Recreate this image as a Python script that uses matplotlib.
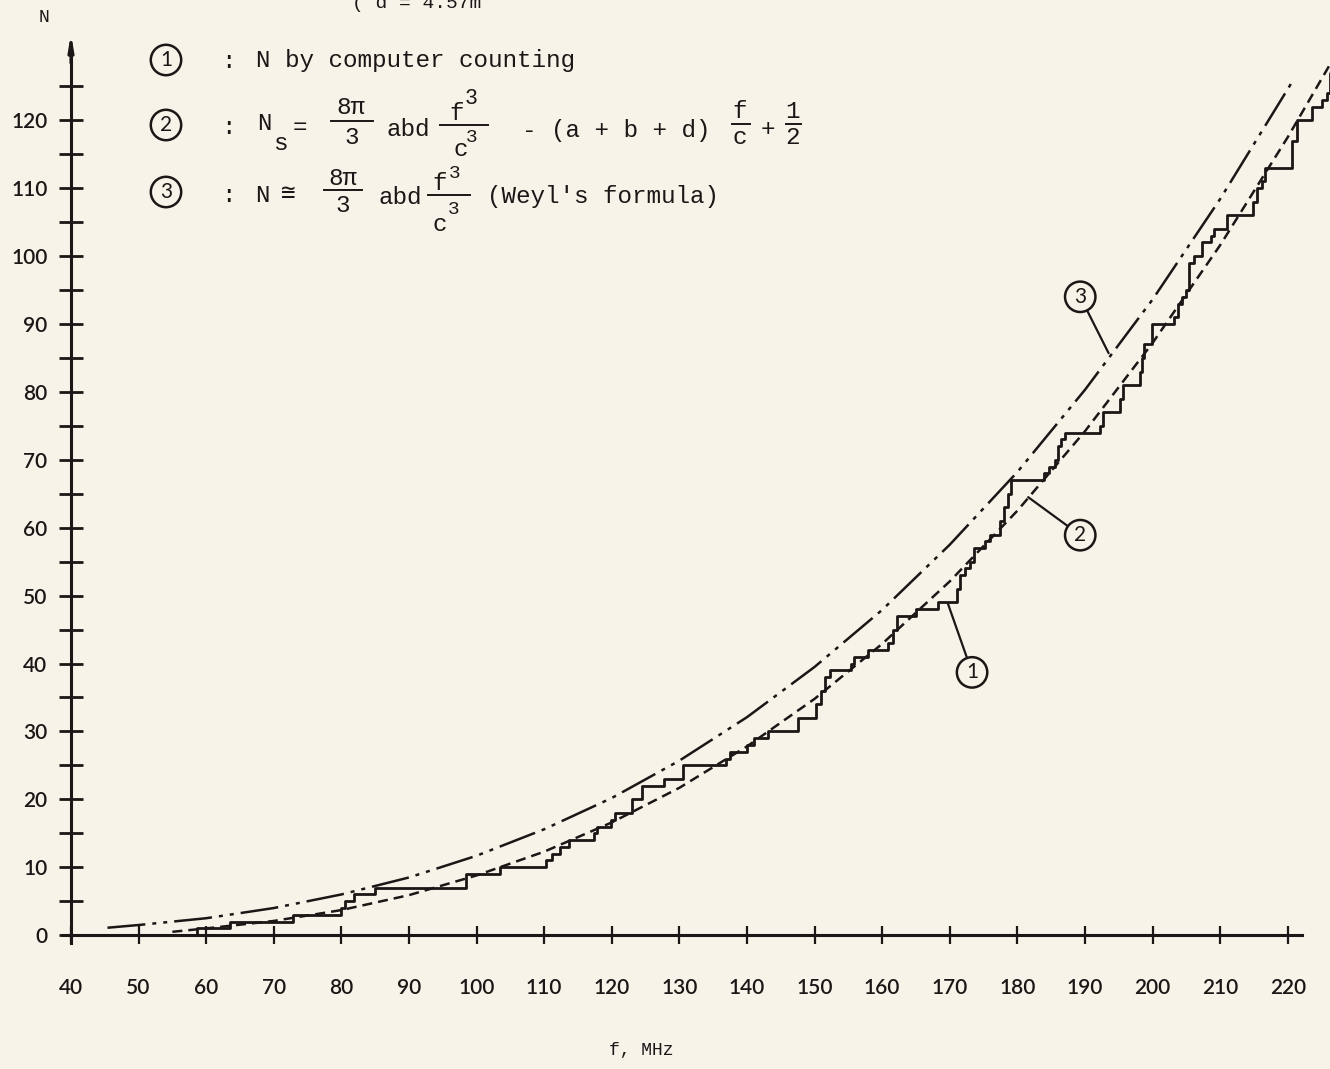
import numpy as np
import matplotlib.pyplot as plt

# values (f in MHz, N = number of modes)
x_ticks = [40, 50, 60, 70, 80, 90, 100, 110, 120, 130, 140, 150, 160, 170, 180, 190, 200, 210, 220]
y_ticks = [0, 10, 20, 30, 40, 50, 60, 70, 80, 90, 100, 110, 120]
y_minor = [5, 15, 25, 35, 45, 55, 65, 75, 85, 95, 105, 115, 125]

# (3) Weyl's formula
weyl_f = [45.4, 50, 60, 70, 80, 90, 100, 110, 120, 130, 140, 150, 160, 170, 180, 190, 200, 210, 220.5]
weyl_n = [1.1, 1.5, 2.5, 4.0, 6.0, 8.5, 11.7, 15.6, 20.2, 25.7, 32.1, 39.5, 47.9, 57.5, 68.2, 80.3, 93.6, 108.4, 125.4]

# (2) smoothed count Ns
ns_f = [55, 60, 70, 80, 90, 100, 110, 120, 130, 140, 150, 160, 170, 180, 190, 200, 210, 220, 227]
ns_n = [0.5, 1.0, 2.1, 3.7, 5.9, 8.8, 12.3, 16.6, 21.7, 27.8, 34.8, 42.9, 52.1, 62.5, 74.2, 87.2, 101.6, 117.5, 129.5]

# (1) computer counting: frequency of each jump and count after it
step_f = [55.0, 58.6, 63.5, 72.9, 80.0, 80.5, 81.8, 85.0, 98.4, 103.4, 110.2, 111.2, 112.4, 113.6,
          117.4, 117.8, 119.9, 120.5, 123.0, 124.5, 127.7, 130.5, 136.9, 137.5, 140.0, 141.0,
          143.1, 147.5, 150.2, 150.9, 151.5, 152.3, 155.4, 155.9, 157.9, 160.8, 161.6, 162.2,
          165.0, 168.2, 171.0, 171.5, 172.2, 173.0, 173.6, 175.2, 175.9, 177.4, 178.0, 178.6,
          179.1, 184.0, 184.7, 185.5, 186.0, 186.5, 187.0, 192.2, 192.6, 195.2, 195.6, 198.1,
          198.4, 198.8, 199.9, 203.1, 203.7, 204.3, 205.0, 205.4, 206.1, 207.3, 208.7, 209.1,
          211.0, 214.9, 215.4, 216.2, 216.6, 220.6, 221.3, 223.6, 225.0, 225.8, 226.3]
step_n = [0, 1, 2, 3, 4, 5, 6, 7, 9, 10, 11, 12, 13, 14,
          15, 16, 17, 18, 20, 22, 23, 25, 26, 27, 28, 29,
          30, 32, 34, 36, 38, 39, 40, 41, 42, 43, 45, 47,
          48, 49, 51, 53, 54, 55, 57, 58, 59, 61, 63, 65,
          67, 68, 69, 70, 72, 73, 74, 75, 77, 79, 81, 83,
          85, 87, 90, 91, 93, 94, 95, 99, 100, 102, 103, 104,
          106, 108, 110, 111, 113, 117, 120, 122, 123, 124, 127]

W, H = 1330, 1069
bg = '#F8F3E9'
ink = '#1C1716'
mono = ['Liberation Mono', 'DejaVu Sans Mono', 'DejaVu Sans']

fig = plt.figure(figsize=(13.3, 10.69), dpi=100)
fig.patch.set_facecolor(bg)
ax = fig.add_axes([0, 0, 1, 1])
ax.set_facecolor(bg)
ax.set_xlim(29.5, 226.25)
ax.set_ylim(-19.7, 137.7)

# axes drawn as crossing lines
ax.spines['top'].set_visible(False)
ax.spines['right'].set_visible(False)
ax.spines['left'].set_position(('data', 40))
ax.spines['bottom'].set_position(('data', 0))
ax.spines['left'].set_bounds(-1.2, 130)
ax.spines['bottom'].set_bounds(38.8, 222.1)
for s in ['left', 'bottom']:
    ax.spines[s].set_linewidth(2.2)
    ax.spines[s].set_color(ink)
ax.annotate('', xy=(40, 133.2), xytext=(40, 128),
            arrowprops=dict(arrowstyle='-|>,head_length=0.9,head_width=0.15', color=ink, lw=2.2))

ax.set_xticks(x_ticks)
ax.set_yticks(y_ticks)
ax.set_yticks(y_minor, minor=True)
ax.tick_params(axis='y', which='both', direction='inout', length=17, width=2.0, color=ink,
               pad=8.5, labelsize=15, labelcolor=ink)
ax.tick_params(axis='x', direction='inout', length=13, width=1.6, color=ink,
               pad=24, labelsize=15, labelcolor=ink)
for lab in ax.get_xticklabels() + ax.get_yticklabels():
    lab.set_family('Lato')
    lab.set_weight('semibold')

# curves
ax.plot(weyl_f, weyl_n, color=ink, lw=1.8, dashes=(15.2, 2.8, 1.6, 2.8, 1.6, 2.8))
ax.plot(ns_f, ns_n, color=ink, lw=1.8, dashes=(4, 2.4))
sf = np.append(step_f, 228)
sn = np.append(step_n, step_n[-1])
ax.step(sf, sn, where='post', color=ink, lw=2.0)

# circled labels on the curves
circ = dict(boxstyle='circle,pad=0.25', fc='none', ec=ink, lw=1.8)
lead = dict(arrowstyle='-', color=ink, lw=1.6, shrinkA=0, shrinkB=0)
ax.annotate('1', xy=(169.7, 48.9), xytext=(173.3, 38.7), family='Lato', fontsize=15,
            ha='center', va='center', color=ink, bbox=circ, arrowprops=lead)
ax.annotate('2', xy=(181.6, 64.5), xytext=(189.3, 58.9), family='Lato', fontsize=15,
            ha='center', va='center', color=ink, bbox=circ, arrowprops=lead)
ax.annotate('3', xy=(193.5, 85.7), xytext=(189.3, 94.0), family='Lato', fontsize=15,
            ha='center', va='center', color=ink, bbox=circ, arrowprops=lead)


# legend block, placed in picture pixels
def put(xp, yp, s, size=17.5, ha='left'):
    ax.text(xp / W, 1 - yp / H, s, transform=ax.transAxes, family=mono, fontsize=size,
            color=ink, ha=ha, va='center')


def bar(x0, x1, yp):
    ax.plot([x0 / W, x1 / W], [1 - yp / H, 1 - yp / H], transform=ax.transAxes, color=ink, lw=1.4)


def badge(xp, yp, s):
    ax.text(xp / W, 1 - yp / H, s, transform=ax.transAxes, family='Lato', fontsize=15,
            color=ink, ha='center', va='center', bbox=circ)


put(352, 4, '( d = 4.57m', size=14)
put(44, 18, 'N', size=13, ha='center')
put(641, 1050, 'f, MHz', size=13, ha='center')

badge(166, 60, '1')
put(228, 62, ':', ha='center')
put(256, 60, 'N by computer counting')

badge(166, 125, '2')
put(228, 128, ':', ha='center')
put(257, 124, 'N')
put(273, 144, 's')
put(300, 128, '=', ha='center')
put(351, 107, '8π', ha='center')
bar(331, 373, 121)
put(352, 138, '3', ha='center')
put(387, 130, 'abd')
put(457, 113, 'f', ha='center')
put(471, 98, '3', size=15.5, ha='center')
bar(440, 488, 125)
put(461, 150, 'c', ha='center')
put(472, 137, '3', size=14, ha='center')
put(522, 130, '- (a + b + d)')
put(740, 112, 'f', ha='center')
bar(732, 750, 124)
put(740, 137, 'c', ha='center')
put(768, 130, '+', ha='center')
put(793, 112, '1', ha='center')
bar(786, 801, 124)
put(793, 137, '2', ha='center')

badge(166, 192, '3')
put(228, 195, ':', ha='center')
put(262, 195, 'N', ha='center')
put(288, 193, '≅', ha='center')
put(343, 179, '8π', ha='center')
bar(324, 362, 190)
put(343, 205, '3', ha='center')
put(378, 198, 'abd')
put(440, 184, 'f', ha='center')
put(455, 174, '3', size=14, ha='center')
bar(428, 470, 195)
put(440, 225, 'c', ha='center')
put(454, 210, '3', size=14, ha='center')
put(487, 197, "(Weyl's formula)")

fig.savefig('out.png', dpi=100, facecolor=bg)
